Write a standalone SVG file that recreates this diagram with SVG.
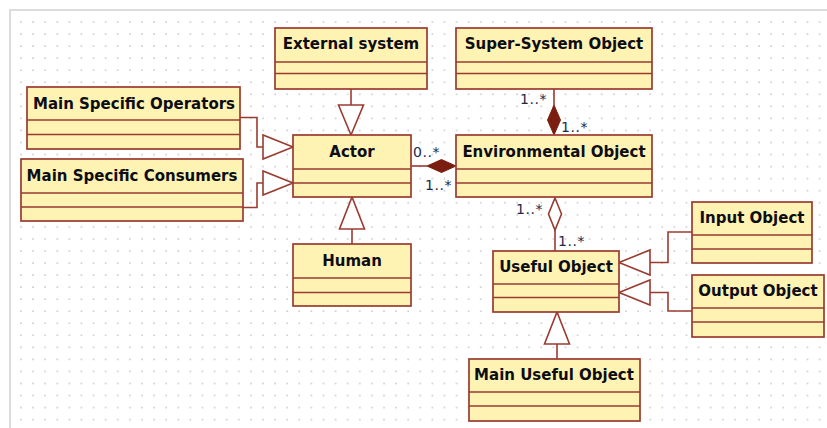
<svg xmlns="http://www.w3.org/2000/svg" width="827" height="428" viewBox="0 0 827 428">
<defs>
<pattern id="dots" patternUnits="userSpaceOnUse" x="20" y="21" width="12.1" height="12.05">
<circle cx="1" cy="1" r="0.85" fill="#bdbdbd"/>
</pattern>
<style>
.box{fill:#FFF3B4;stroke:#9A3B30;stroke-width:1.7}
.div{stroke:#9A3B30;stroke-width:1.7;fill:none}
.name{font-family:"DejaVu Sans",Verdana,sans-serif;font-weight:bold;font-size:15px;fill:#0d0d14;text-anchor:middle}
.mult{font-family:"DejaVu Sans",Verdana,sans-serif;font-size:14px;fill:#1c2b4a;letter-spacing:0.6px}
.ln{stroke:#9A3B30;stroke-width:1.6;fill:none}
.tri{stroke:#9A3B30;stroke-width:1.6;fill:#fff}
.fd{stroke:#7B1E12;stroke-width:1;fill:#7B1E12}
.hd{stroke:#9A3B30;stroke-width:1.6;fill:#fff}
</style>
</defs>
<rect x="0" y="0" width="827" height="428" fill="#fff"/>
<rect x="11" y="11" width="816" height="417" fill="url(#dots)"/>
<path d="M10 428 V10 H827" fill="none" stroke="#dcdcdc" stroke-width="2"/>

<g id="connectors">
<!-- External system -> Actor -->
<line class="ln" x1="351" y1="89" x2="351" y2="105"/>
<polygon class="tri" points="338.5,105 363.5,105 351,135"/>
<!-- Human -> Actor -->
<line class="ln" x1="352" y1="244" x2="352" y2="229"/>
<polygon class="tri" points="339.5,229 364.5,229 352,197"/>
<!-- Main Specific Operators -> Actor -->
<polyline class="ln" points="240,117.5 257,117.5 257,147 263,147"/>
<polygon class="tri" points="263,135 263,159 293,147"/>
<!-- Main Specific Consumers -> Actor -->
<polyline class="ln" points="243,207.5 257,207.5 257,183 263,183"/>
<polygon class="tri" points="263,171 263,195 293,183"/>
<!-- Super-System Object - Environmental Object -->
<line class="ln" x1="554" y1="89" x2="554" y2="105"/>
<polygon class="fd" points="554,105 560.5,120 554,135 547.5,120"/>
<text class="mult" x="520" y="104">1..*</text>
<text class="mult" x="561" y="132">1..*</text>
<!-- Actor - Environmental Object -->
<line class="ln" x1="411" y1="166" x2="427" y2="166"/>
<polygon class="fd" points="427,166 441.5,159.5 456,166 441.5,172.5"/>
<text class="mult" x="413" y="157">0..*</text>
<text class="mult" x="425" y="190">1..*</text>
<!-- Environmental Object - Useful Object -->
<line class="ln" x1="555" y1="230" x2="555" y2="251"/>
<polygon class="hd" points="555,198 561.5,214 555,230 548.5,214"/>
<text class="mult" x="516" y="214">1..*</text>
<text class="mult" x="558" y="246">1..*</text>
<!-- Input Object -> Useful Object -->
<polyline class="ln" points="692,232 668,232 668,262.5 650,262.5"/>
<polygon class="tri" points="650,250 650,275 619,262.5"/>
<!-- Output Object -> Useful Object -->
<polyline class="ln" points="692,311 668,311 668,292.5 650,292.5"/>
<polygon class="tri" points="650,280 650,305 619,292.5"/>
<!-- Main Useful Object -> Useful Object -->
<line class="ln" x1="557" y1="359" x2="557" y2="344"/>
<polygon class="tri" points="544.5,344 569.5,344 557,312"/>
</g>

<g id="external-system">
<rect class="box" x="275" y="28" width="152" height="61"/>
<path class="div" d="M275 62 H427 M275 73.5 H427"/>
<text class="name" x="351" y="49">External system</text>
</g>
<g id="super-system-object">
<rect class="box" x="456" y="28" width="196" height="61"/>
<path class="div" d="M456 62 H652 M456 73.5 H652"/>
<text class="name" x="554" y="49">Super-System Object</text>
</g>
<g id="main-specific-operators">
<rect class="box" x="27" y="87" width="213" height="62"/>
<path class="div" d="M27 120 H240 M27 134.5 H240"/>
<text class="name" x="134" y="109">Main Specific Operators</text>
</g>
<g id="main-specific-consumers">
<rect class="box" x="21" y="159" width="222" height="62"/>
<path class="div" d="M21 193 H243 M21 207 H243"/>
<text class="name" x="132" y="181">Main Specific Consumers</text>
</g>
<g id="actor">
<rect class="box" x="293" y="135" width="118" height="62"/>
<path class="div" d="M293 169 H411 M293 183 H411"/>
<text class="name" x="352" y="157">Actor</text>
</g>
<g id="environmental-object">
<rect class="box" x="456" y="135" width="196" height="62"/>
<path class="div" d="M456 169 H652 M456 183 H652"/>
<text class="name" x="554" y="157">Environmental Object</text>
</g>
<g id="human">
<rect class="box" x="293" y="244" width="118" height="62"/>
<path class="div" d="M293 278 H411 M293 292.5 H411"/>
<text class="name" x="352" y="266">Human</text>
</g>
<g id="useful-object">
<rect class="box" x="493" y="251" width="126" height="61"/>
<path class="div" d="M493 284 H619 M493 297.5 H619"/>
<text class="name" x="556" y="272">Useful Object</text>
</g>
<g id="input-object">
<rect class="box" x="692" y="202" width="120" height="61"/>
<path class="div" d="M692 235 H812 M692 249 H812"/>
<text class="name" x="752" y="223">Input Object</text>
</g>
<g id="output-object">
<rect class="box" x="692" y="275" width="132" height="62"/>
<path class="div" d="M692 308 H824 M692 322 H824"/>
<text class="name" x="758" y="296">Output Object</text>
</g>
<g id="main-useful-object">
<rect class="box" x="469" y="359" width="171" height="62"/>
<path class="div" d="M469 392 H640 M469 406 H640"/>
<text class="name" x="554" y="380">Main Useful Object</text>
</g>
</svg>
